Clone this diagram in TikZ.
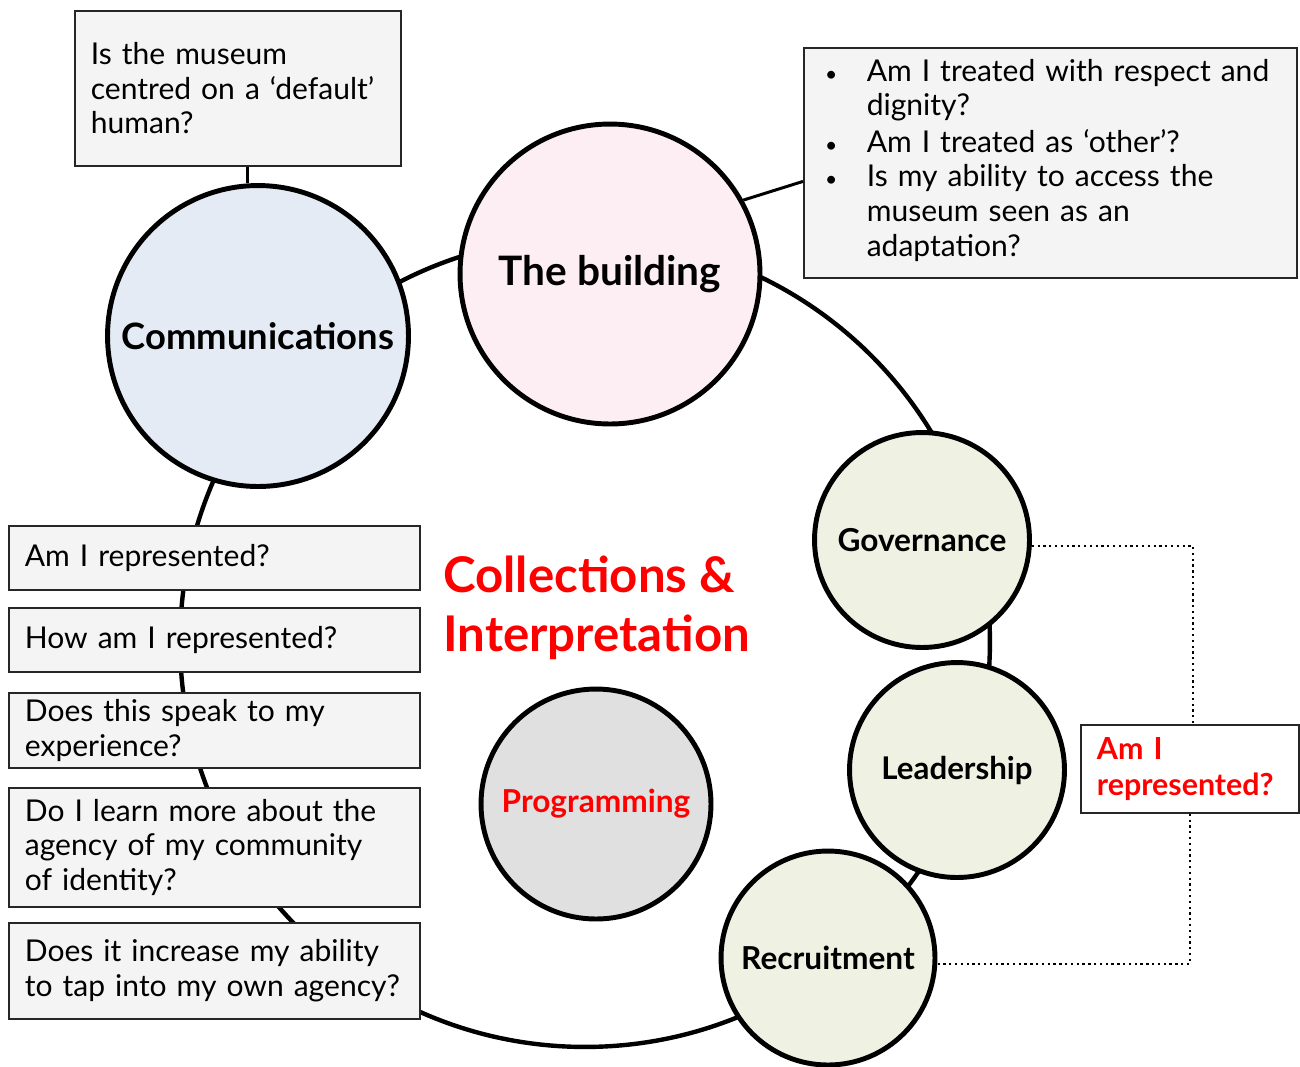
\documentclass[tikz,border=0pt]{standalone}
\usepackage{fontspec}
\setmainfont{Lato}
\usetikzlibrary{calc}

\definecolor{commblue}{HTML}{E4EBF5}
\definecolor{buildpink}{HTML}{FDEEF3}
\definecolor{orggreen}{HTML}{EFF1E3}
\definecolor{proggray}{HTML}{E0E0E0}
\definecolor{boxgray}{HTML}{F4F4F4}
\definecolor{qred}{HTML}{FF0000}

\newcommand{\qitem}[1]{\noindent\makebox[26.7pt][l]{\hspace{3pt}{\fontsize{12}{12}\selectfont\textbullet}}\parbox[t]{8.3cm}{#1\strut}\par}

\tikzset{
  topic/.style={circle, draw=black, line width=2.8pt, inner sep=0pt},
  qbox/.style={draw=black!85, line width=1pt, fill=boxgray, inner xsep=0.32cm, inner ysep=0pt,
    align=left, anchor=north west, font=\fontsize{17.1}{19.7}\selectfont},
  ring/.style={circle, draw=black, line width=2.5pt, minimum size=16.2cm, inner sep=0pt},
  link/.style={line width=1.7pt},
  dots/.style={dotted, line width=1.3pt},
}

\begin{document}
\begin{tikzpicture}[x=0.02cm, y=-0.02cm]
\useasboundingbox (0,0) rectangle (1300,1066);

		\node[ring] (ring) at (585,642) {};

		\node[topic, fill=commblue, minimum size=6.02cm, font=\bfseries\fontsize{20.7}{24}\selectfont] (comm) at (258,336) {Communications};
		\node[topic, fill=buildpink, minimum size=6.0cm, font=\bfseries\fontsize{23.1}{27}\selectfont] (build) at (610,274) {The building};
		\node[topic, fill=orggreen, minimum size=4.3cm, font=\bfseries\fontsize{18}{21}\selectfont] (gov) at (922,540) {Governance};
		\node[topic, fill=orggreen, minimum size=4.3cm, font=\bfseries\fontsize{17.8}{21}\selectfont] (lead) at (957,770) {Leadership};
		\node[topic, fill=orggreen, minimum size=4.28cm, font=\bfseries\fontsize{18}{21}\selectfont] (recr) at (828,958) {Recruitment};
		\node[topic, fill=proggray, minimum size=4.6cm, text=qred, font=\bfseries\fontsize{18}{21}\selectfont] (prog) at (596,804) {Programming};

		\node[anchor=west, align=left, text=qred, inner sep=0pt, font=\bfseries\fontsize{28}{33.5}\selectfont] (coll) at (443,608) {Collections \&\\Interpretation};

		% questions
		\node[qbox, text width=5.88cm, minimum height=3.1cm] (q1) at (74,10) {Is the museum\\centred on a ‘default’\\human?};
		\node[qbox, text width=9.22cm, minimum height=4.6cm] (q2) at (803,47) {\qitem{Am I treated with respect and\\dignity?}\qitem{Am I treated as ‘other’?}\qitem{Is my ability to access the\\museum seen as an\\adaptation?}};

		\node[qbox, text width=7.58cm, minimum height=1.28cm] (l1) at (8,525) {Am I represented?};
		\node[qbox, text width=7.58cm, minimum height=1.28cm] (l2) at (8,607) {How am I represented?};
		\node[qbox, text width=7.58cm, minimum height=1.5cm] (l3) at (8,692) {Does this speak to my\\experience?};
		\node[qbox, text width=7.58cm, minimum height=2.38cm] (l4) at (8,787) {Do I learn more about the\\agency of my community\\of identity?};
		\node[qbox, text width=7.58cm, minimum height=1.92cm] (l5) at (8,922) {Does it increase my ability\\to tap into my own agency?};

		\node[qbox, fill=white, text width=3.72cm, minimum height=1.76cm, text=qred, font=\bfseries\fontsize{17.3}{20.5}\selectfont] (redq) at (1080,724) {Am I\\represented?};

		\draw[link] (comm.94) -- (comm.94 |- q1.south);
		\draw[link] (build.29) -- ($(q2.north west)!0.58!(q2.south west)$);

		\draw[dots] (gov.-3) -| ($(redq.north)+(3,0)$);
		\draw[dots] (redq.south) |- (recr.-3);

\end{tikzpicture}
\end{document}
